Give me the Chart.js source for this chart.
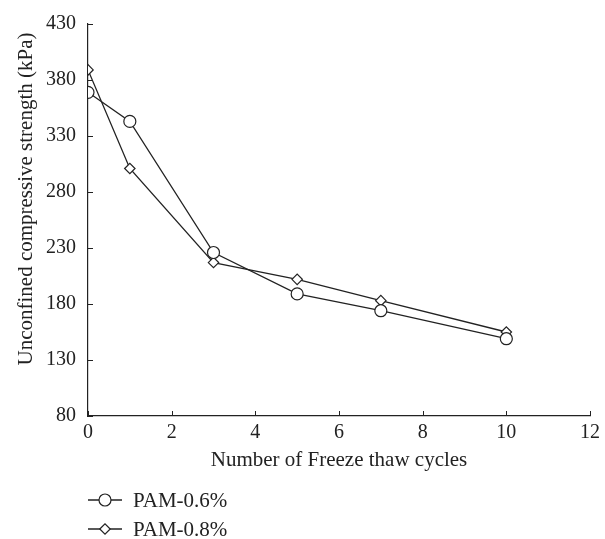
<!DOCTYPE html>
<html>
<head>
<meta charset="utf-8">
<script src="https://cdn.jsdelivr.net/npm/chart.js@4.4.1/dist/chart.umd.min.js"></script>
<style>
  html, body { margin: 0; padding: 0; background: #fff; }
  #wrap { width: 605px; height: 539px; }
</style>
</head>
<body>
<div id="wrap"><canvas id="myChart" width="605" height="539"></canvas></div>
<script>
// freeze-thaw cycles
var cycles = [0, 1, 3, 5, 7, 10];
// unconfined compressive strength (kPa)
var pam06 = [369, 343, 226, 189, 174, 149];
var pam08 = [389, 301, 217, 202, 183, 155];
var xTicks = [0, 2, 4, 6, 8, 10, 12];
var yTicks = [80, 130, 180, 230, 280, 330, 380, 430];
var yTitle = 'Unconfined compressive strength (kPa)';

var ink = '#222';
var serif = "'Liberation Serif', 'DejaVu Serif', serif";

function toPoints(ys) {
  return cycles.map(function (x, i) { return {x: x, y: ys[i]}; });
}

var datasets = [
  {label: 'PAM-0.6%', data: toPoints(pam06), pointStyle: 'circle', pointRadius: 6},
  {label: 'PAM-0.8%', data: toPoints(pam08), pointStyle: 'rectRot', pointRadius: 5.2}
];
datasets.forEach(function (d) {
  d.borderColor = ink;
  d.borderWidth = 1.3;
  d.pointBorderColor = ink;
  d.pointBackgroundColor = '#fff';
  d.pointBorderWidth = 1.2;
  d.pointHoverRadius = d.pointRadius;
  d.tension = 0;
  d.fill = false;
});

// inward tick marks + y title (sits a bit above the axis middle)
var innerTicks = {
  id: 'innerTicks',
  afterDatasetsDraw: function (chart) {
    var c = chart.ctx, a = chart.chartArea;
    var xs = chart.scales.x, ys = chart.scales.y;
    c.save();
    c.strokeStyle = ink;
    c.lineWidth = 1;
    xTicks.forEach(function (v) {
      var px = Math.round(xs.getPixelForValue(v)) + 0.5;
      c.beginPath(); c.moveTo(px, a.bottom); c.lineTo(px, a.bottom - 5); c.stroke();
    });
    yTicks.forEach(function (v) {
      var py = Math.round(ys.getPixelForValue(v)) + 0.5;
      c.beginPath(); c.moveTo(a.left, py); c.lineTo(a.left + 5, py); c.stroke();
    });
    c.translate(26, 199);
    c.rotate(-Math.PI / 2);
    c.fillStyle = ink;
    c.font = '21px ' + serif;
    c.textAlign = 'center';
    c.textBaseline = 'middle';
    c.fillText(yTitle, 0, 0);
    c.restore();
  }
};

// stacked legend under the x axis title
var stackLegend = {
  id: 'stackLegend',
  afterDraw: function (chart) {
    var c = chart.ctx;
    var rows = [500, 529];
    c.save();
    chart.data.datasets.forEach(function (d, i) {
      var y = rows[i];
      c.strokeStyle = ink;
      c.lineWidth = 1.3;
      c.beginPath(); c.moveTo(88, y); c.lineTo(122, y); c.stroke();
      c.fillStyle = '#fff';
      c.lineWidth = 1.2;
      Chart.helpers.drawPoint(c, {pointStyle: d.pointStyle, radius: d.pointRadius, rotation: 0, borderWidth: 1.2}, 105, y);
      c.fillStyle = ink;
      c.font = '21px ' + serif;
      c.textBaseline = 'middle';
      c.textAlign = 'left';
      c.fillText(d.label, 133, y + 1);
    });
    c.restore();
  }
};

var ctx = document.getElementById('myChart');

const cfg = {
  type: 'line',
  data: {datasets: datasets},
  options: {
    responsive: false,
    animation: false,
    events: [],
    layout: {padding: {left: 0, right: 10, top: 20, bottom: 63}},
    plugins: {legend: {display: false}, tooltip: {enabled: false}},
    scales: {
      x: {
        type: 'linear',
        min: 0, max: 12,
        afterBuildTicks: function (s) { s.ticks = xTicks.map(function (v) { return {value: v}; }); },
        afterFit: function (s) { s.height = 60; },
        grid: {display: false, drawTicks: false},
        border: {display: true, color: ink, width: 1.2},
        ticks: {color: ink, font: {family: serif, size: 20}, padding: 5, maxRotation: 0},
        title: {display: true, text: 'Number of Freeze thaw cycles', color: ink,
                font: {family: serif, size: 21}, padding: {top: 0, bottom: 3}}
      },
      y: {
        type: 'linear',
        min: 80, max: 430,
        afterBuildTicks: function (s) { s.ticks = yTicks.map(function (v) { return {value: v}; }); },
        afterFit: function (s) { s.width = 88; },
        grid: {display: false, drawTicks: false},
        border: {display: true, color: ink, width: 1.2},
        ticks: {color: ink, font: {family: serif, size: 20}, padding: 12}
      }
    }
  },
  plugins: [innerTicks, stackLegend]
};

new Chart(ctx, cfg);
</script>
</body>
</html>
